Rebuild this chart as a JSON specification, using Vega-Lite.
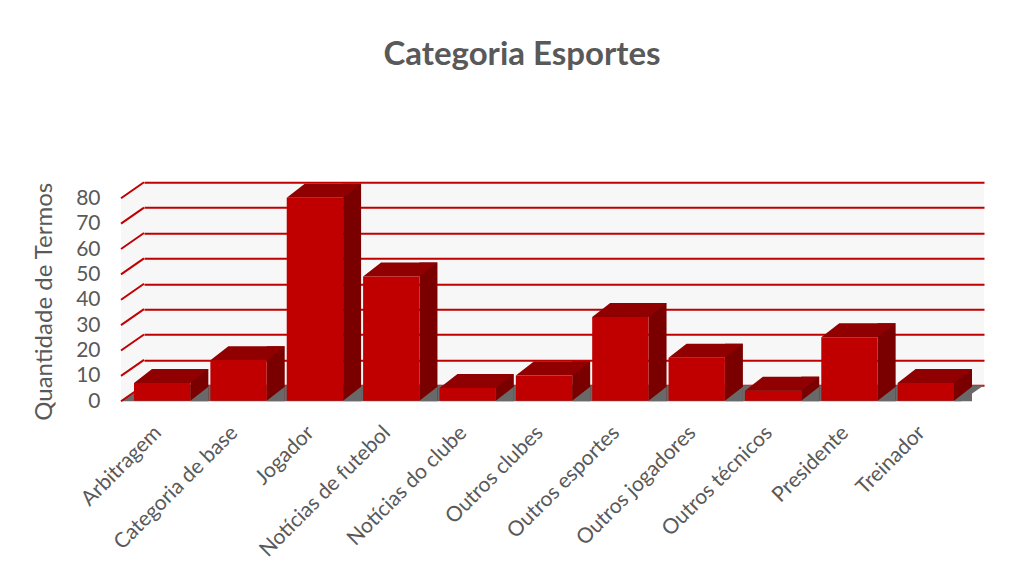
{
  "$schema": "https://vega.github.io/schema/vega-lite/v6.json",
  "width": 840,
  "height": 203,
  "autosize": "none",
  "padding": {"left": 144, "top": 182.3, "right": 43, "bottom": 191.7},
  "background": "white",
  "title": {
    "text": "Categoria Esportes",
    "font": "Lato",
    "fontSize": 33,
    "fontWeight": "bold",
    "color": "#595959",
    "anchor": "middle",
    "frame": "group",
    "dx": -42,
    "offset": 109
  },
  "config": {
    "view": {"stroke": null, "fill": "#f7f7f7"},
    "axisX": {
      "title": null,
      "domain": false,
      "ticks": false,
      "grid": false,
      "labelAngle": -45,
      "labelAlign": "right",
      "labelBaseline": "middle",
      "labelPadding": 44,
      "labelOffset": -24,
      "labelFont": "Lato",
      "labelFontSize": 21,
      "labelColor": "#595959",
      "labelOverlap": false,
      "labelFlush": false,
      "labelLimit": 0
    },
    "axisY": {
      "tickCount": 8,
      "grid": true,
      "gridColor": "#C00000",
      "gridWidth": 2,
      "domain": false,
      "ticks": false,
      "labelPadding": 44,
      "labelOffset": 16,
      "labelFont": "Lato",
      "labelFontSize": 21,
      "labelColor": "#595959",
      "titleFont": "Lato",
      "titleFontSize": 24,
      "titleFontWeight": "normal",
      "titleColor": "#595959",
      "titleAngle": -90,
      "titleAlign": "center",
      "titleBaseline": "middle",
      "titleX": -100,
      "titleY": 119
    }
  },
  "datasets": {
    "bars": [
      {"categoria": "Arbitragem", "valor": 7},
      {"categoria": "Categoria de base", "valor": 16},
      {"categoria": "Jogador", "valor": 80},
      {"categoria": "Notícias de futebol", "valor": 49},
      {"categoria": "Notícias do clube", "valor": 5},
      {"categoria": "Outros clubes", "valor": 10},
      {"categoria": "Outros esportes", "valor": 33},
      {"categoria": "Outros jogadores", "valor": 17},
      {"categoria": "Outros técnicos", "valor": 4},
      {"categoria": "Presidente", "valor": 25},
      {"categoria": "Treinador", "valor": 7}
    ],
    "grid": [
      {"v": 0}, {"v": 10}, {"v": 20}, {"v": 30}, {"v": 40},
      {"v": 50}, {"v": 60}, {"v": 70}, {"v": 80}
    ],
    "one": [{"parte": "parede"}]
  },
  "layer": [
    {
      "data": {"name": "one"},
      "mark": {"type": "point", "filled": true, "opacity": 1, "strokeWidth": 0, "size": 4, "color": "#f7f7f7",
        "shape": "M -38.18 0 L -38.18 203 L -61.18 219 L -61.18 16 Z"},
      "encoding": {
        "x": {"datum": "Arbitragem", "type": "nominal", "title": null},
        "y": {"datum": 80, "type": "quantitative", "title": "Quantidade de Termos", "scale": {"domain": [0, 80], "nice": false}}
      }
    },
    {
      "data": {"name": "one"},
      "mark": {"type": "point", "filled": true, "opacity": 1, "strokeWidth": 0, "size": 4, "color": "#696969",
        "shape": "M -38.18 0 L 801.82 0 L 778.82 16 L -61.18 16 Z"},
      "encoding": {
        "x": {"datum": "Arbitragem", "type": "nominal", "title": null},
        "y": {"datum": 0, "type": "quantitative", "title": "Quantidade de Termos"}
      }
    },
    {
      "data": {"name": "grid"},
      "mark": {"type": "rule", "color": "#C00000", "strokeWidth": 2, "y2Offset": 16},
      "encoding": {
        "x": {"value": 0},
        "x2": {"value": -23},
        "y": {"field": "v", "type": "quantitative", "title": "Quantidade de Termos"},
        "y2": {"field": "v"}
      }
    },
    {
      "data": {"name": "bars"},
      "mark": {"type": "bar", "color": "#7a0000", "width": 18, "xOffset": 17.18, "yOffset": 1.5, "y2Offset": 15.5},
      "encoding": {
        "x": {"field": "categoria", "type": "nominal", "title": null},
        "y": {"field": "valor", "type": "quantitative", "title": "Quantidade de Termos"},
        "y2": {"datum": 0}
      }
    },
    {
      "data": {"name": "bars"},
      "mark": {"type": "point", "filled": true, "opacity": 1, "strokeWidth": 0, "size": 4, "color": "#900000",
        "shape": "M -48.18 15.5 L 8.18 15.5 L 26.18 1.5 L -30.18 1.5 Z"},
      "encoding": {
        "x": {"field": "categoria", "type": "nominal", "title": null},
        "y": {"field": "valor", "type": "quantitative", "title": "Quantidade de Termos"}
      }
    },
    {
      "data": {"name": "bars"},
      "mark": {"type": "point", "filled": true, "opacity": 1, "strokeWidth": 0, "size": 4, "color": "#696969",
        "shape": "M 8.18 15.5 L 26.18 1.5 L 26.18 16 L 8.18 16 Z"},
      "encoding": {
        "x": {"field": "categoria", "type": "nominal", "title": null},
        "y": {"datum": 0, "type": "quantitative", "title": "Quantidade de Termos"}
      }
    },
    {
      "data": {"name": "bars"},
      "mark": {"type": "bar", "color": "#C00000", "xOffset": -20, "yOffset": 15.5, "y2Offset": 15.5},
      "encoding": {
        "x": {
          "field": "categoria",
          "type": "nominal",
          "title": null,
          "scale": {"paddingInner": 0.262, "paddingOuter": 0.131}
        },
        "y": {
          "field": "valor",
          "type": "quantitative",
          "title": "Quantidade de Termos"
        },
        "y2": {"datum": 0}
      }
    }
  ]
}
